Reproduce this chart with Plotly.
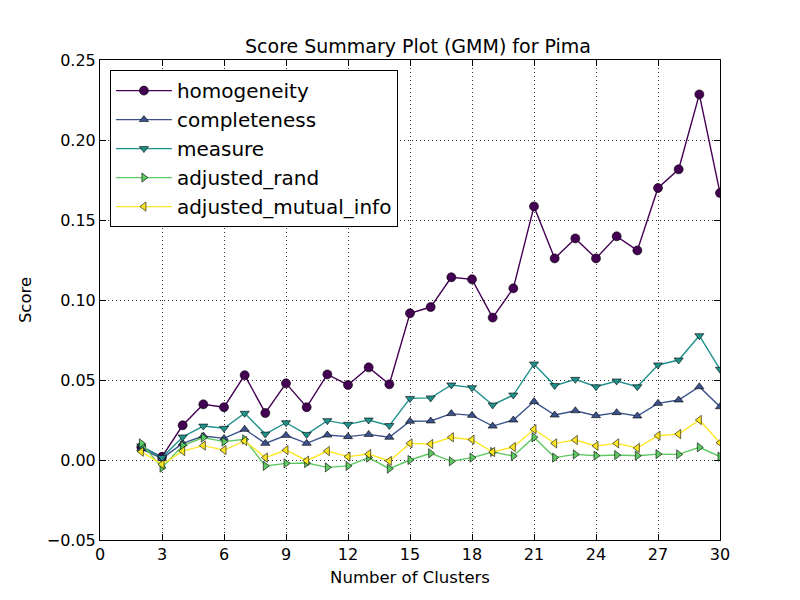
import plotly.graph_objects as go

# Number of clusters tried by the GMM
clusters = list(range(2, 31))

homogeneity = [0.008, 0.002, 0.0217, 0.0348, 0.033, 0.053, 0.0294, 0.0479, 0.033, 0.0535,
               0.0469, 0.0579, 0.0473, 0.0917, 0.0956, 0.1142, 0.1129, 0.089, 0.1073, 0.1585,
               0.126, 0.1385, 0.126, 0.1398, 0.131, 0.170, 0.1817, 0.2285, 0.1669]
completeness = [0.007, 0.001, 0.0104, 0.015, 0.0135, 0.0192, 0.0104, 0.0154, 0.0104, 0.0156,
                0.0146, 0.016, 0.0142, 0.0242, 0.0244, 0.029, 0.0279, 0.0212, 0.025, 0.0365,
                0.0281, 0.0308, 0.0277, 0.0296, 0.0275, 0.0354, 0.0375, 0.0458, 0.0333]
measure = [0.0088, 0.0015, 0.0144, 0.0212, 0.0198, 0.0292, 0.0162, 0.0233, 0.016, 0.0246,
           0.0223, 0.025, 0.0215, 0.0385, 0.0388, 0.0469, 0.0452, 0.0344, 0.0406, 0.060,
           0.0465, 0.0504, 0.0458, 0.0494, 0.0458, 0.0594, 0.0625, 0.0777, 0.0567]
adjusted_rand = [0.0104, -0.0048, 0.009, 0.014, 0.0115, 0.0129, -0.0037, -0.0021, -0.0019, -0.0046,
                 -0.0037, 0.0015, -0.0054, 0.0, 0.0042, -0.0008, 0.0015, 0.005, 0.0025, 0.0142,
                 0.0015, 0.0035, 0.0027, 0.0031, 0.0027, 0.0037, 0.0035, 0.0079, 0.0021]
adjusted_mutual_info = [0.0052, -0.0027, 0.0056, 0.009, 0.0062, 0.0119, 0.0015, 0.0062, -0.0004, 0.0056,
                        0.0021, 0.0037, -0.0006, 0.0104, 0.010, 0.0142, 0.0127, 0.005, 0.0081, 0.0192,
                        0.0104, 0.0125, 0.0088, 0.0104, 0.0075, 0.0152, 0.0162, 0.025, 0.0108]

series = [
    ("homogeneity", homogeneity, "#440154", "circle", 9),
    ("completeness", completeness, "#3b528b", "triangle-up", 8),
    ("measure", measure, "#21918c", "triangle-down", 8),
    ("adjusted_rand", adjusted_rand, "#5ec962", "triangle-right", 8),
    ("adjusted_mutual_info", adjusted_mutual_info, "#fde725", "triangle-left", 8),
]

fig = go.Figure()
for name, vals, color, symbol, size in series:
    fig.add_trace(go.Scatter(
        x=clusters, y=vals, name=name, mode="lines+markers",
        line=dict(color=color, width=1.4),
        marker=dict(symbol=symbol, size=size, color=color,
                    line=dict(color="black", width=0.6)),
    ))

axis_style = dict(
    showline=True, linecolor="black", linewidth=1, mirror="allticks",
    ticks="inside", ticklen=6, tickcolor="black",
    showgrid=True, gridcolor="#333333", griddash="1px,3px", gridwidth=0.8,
    zeroline=False, tickfont=dict(size=16, color="black"),
)

fig.update_xaxes(range=[0, 30], dtick=3, tick0=0,
                 title=dict(text="Number of Clusters", font=dict(size=16.5, color="black"), standoff=8),
                 **axis_style)
fig.update_yaxes(range=[-0.05, 0.25], dtick=0.05, tick0=0, tickformat=".2f",
                 title=dict(text="Score", font=dict(size=16.5, color="black"), standoff=10),
                 **axis_style)

# the page adds an 8px body margin, so margins are shifted to compensate
fig.update_layout(
    width=800, height=600,
    margin=dict(l=92, r=88, t=52, b=68),
    paper_bgcolor="white", plot_bgcolor="white",
    font=dict(family="DejaVu Sans", color="black"),
    title=dict(text="Score Summary Plot (GMM) for Pima", x=0.5125, xanchor="center",
               y=1 - 38 / 600, yanchor="middle", font=dict(size=19, color="black")),
    legend=dict(x=0.016, y=0.979, xanchor="left", yanchor="top",
                bordercolor="black", borderwidth=1, bgcolor="white",
                font=dict(size=20, color="black"), itemwidth=56,
                tracegroupgap=1),
    showlegend=True,
)

fig.write_html("out.html")
